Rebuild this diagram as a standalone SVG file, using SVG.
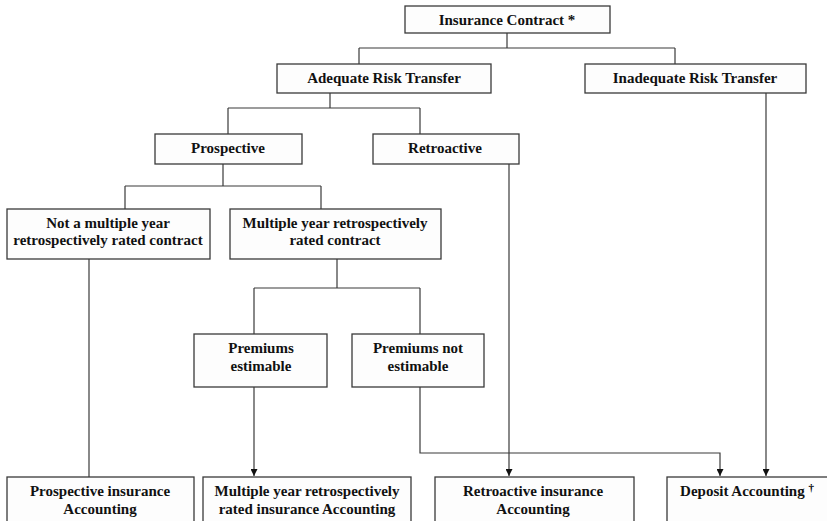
<svg xmlns="http://www.w3.org/2000/svg" width="827" height="521" viewBox="0 0 827 521">
<style>
.box{fill:#fdfdfd;stroke:#3a3a3a;stroke-width:1.3}
.t{font-family:"Liberation Serif","Times New Roman",serif;font-weight:bold;font-size:15px;fill:#111;text-anchor:middle}
.c{fill:none;stroke:#3a3a3a;stroke-width:1.2}
</style>
<defs>
<marker id="ah" viewBox="0 0 10 10" refX="10" refY="5" markerWidth="7" markerHeight="7" markerUnits="userSpaceOnUse" orient="auto">
<path d="M0,0 L10,5 L0,10 z" fill="#111"/>
</marker>
</defs>
<rect width="827" height="521" fill="#fff"/>
<g id="connectors">
<path class="c" d="M507,33 V48 M359,48 H675 M359,48 V64 M675,48 V64"/>
<path class="c" d="M330,93 V108 M228,108 H420 M228,108 V134 M420,108 V134"/>
<path class="c" d="M223,164 V186 M125,186 H321 M125,186 V209 M321,186 V209"/>
<path class="c" d="M89,259 V477"/>
<path class="c" d="M337,259 V288 M254,288 H420 M254,288 V334 M420,288 V334"/>
<path class="c" d="M254,387 V476" marker-end="url(#ah)"/>
<path class="c" d="M420,387 V453 H720 V476" marker-end="url(#ah)"/>
<path class="c" d="M509,164 V476" marker-end="url(#ah)"/>
<path class="c" d="M766,93 V476" marker-end="url(#ah)"/>
</g>
<g id="insurance-contract">
<rect class="box" x="405" y="6" width="205" height="27"/>
<text class="t" x="507" y="25">Insurance Contract *</text>
</g>
<g id="adequate">
<rect class="box" x="277" y="64" width="214" height="29"/>
<text class="t" x="384" y="83">Adequate Risk Transfer</text>
</g>
<g id="inadequate">
<rect class="box" x="585" y="64" width="221" height="29"/>
<text class="t" x="695" y="83">Inadequate Risk Transfer</text>
</g>
<g id="prospective">
<rect class="box" x="155" y="134" width="147" height="30"/>
<text class="t" x="228" y="153">Prospective</text>
</g>
<g id="retroactive">
<rect class="box" x="373" y="134" width="146" height="30"/>
<text class="t" x="445" y="153">Retroactive</text>
</g>
<g id="not-multiple">
<rect class="box" x="7" y="209" width="203" height="50"/>
<text class="t" x="108" y="228">Not a multiple year</text>
<text class="t" x="108" y="245">retrospectively rated contract</text>
</g>
<g id="multiple">
<rect class="box" x="230" y="209" width="211" height="50"/>
<text class="t" x="335" y="228">Multiple year retrospectively</text>
<text class="t" x="335" y="245">rated contract</text>
</g>
<g id="premiums-estimable">
<rect class="box" x="194" y="334" width="133" height="53"/>
<text class="t" x="261" y="353">Premiums</text>
<text class="t" x="261" y="371">estimable</text>
</g>
<g id="premiums-not-estimable">
<rect class="box" x="352" y="334" width="132" height="53"/>
<text class="t" x="418" y="353">Premiums not</text>
<text class="t" x="418" y="371">estimable</text>
</g>
<g id="prospective-accounting">
<rect class="box" x="7" y="477" width="187" height="60"/>
<text class="t" x="100" y="496">Prospective insurance</text>
<text class="t" x="100" y="514">Accounting</text>
</g>
<g id="multiple-accounting">
<rect class="box" x="203" y="477" width="208" height="60"/>
<text class="t" x="307" y="496">Multiple year retrospectively</text>
<text class="t" x="307" y="514">rated insurance Accounting</text>
</g>
<g id="retroactive-accounting">
<rect class="box" x="435" y="477" width="199" height="60"/>
<text class="t" x="533" y="496">Retroactive insurance</text>
<text class="t" x="533" y="514">Accounting</text>
</g>
<g id="deposit-accounting">
<rect class="box" x="667" y="477" width="180" height="60"/>
<text class="t" x="747" y="496">Deposit Accounting <tspan font-size="11" dy="-5" fill="#000">†</tspan></text>
</g>
</svg>
